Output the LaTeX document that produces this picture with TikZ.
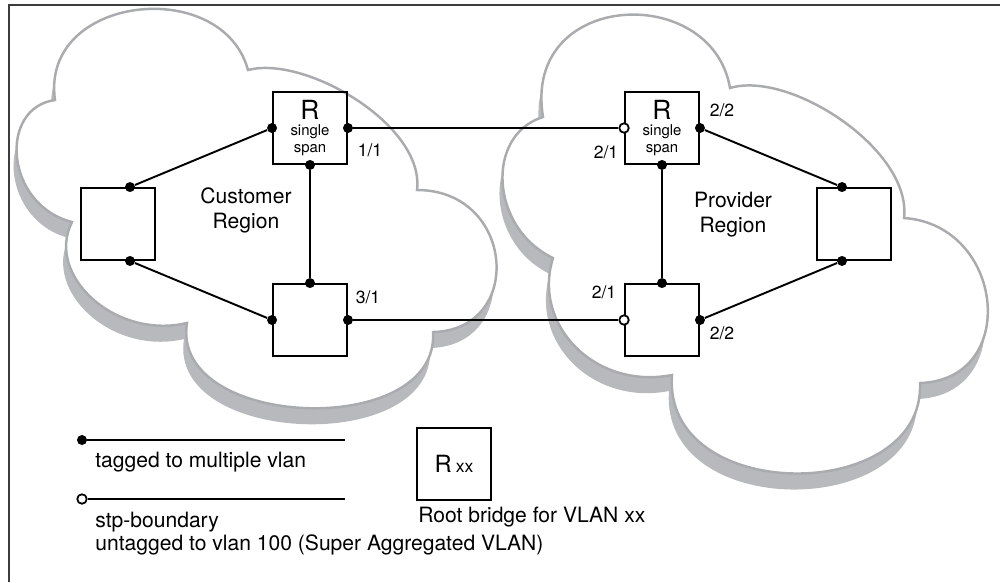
\documentclass[tikz,border=0pt]{standalone}
\usepackage{fontspec}
\setmainfont{TeX Gyre Heros}
\usepackage{tikz}

\definecolor{cloudline}{HTML}{A9ABAE}
\definecolor{cloudshade}{HTML}{B7B9BC}
\definecolor{framegray}{HTML}{3C3C3C}

% cloud outlines, one curve per bulge
\newcommand{\custcloud}{(55,100)
  .. controls (40,-5) and (222,-25) .. (248,70)
  .. controls (305,55) and (425,125) .. (417,190)
  .. controls (515,190) and (525,330) .. (433,332)
  .. controls (440,440) and (170,430) .. (187,323)
  .. controls (115,340) and (45,275) .. (72,222)
  .. controls (5,205) and (-2,108) .. (55,100)
  -- cycle}
\newcommand{\provcloud}{(543,117)
  .. controls (522,-10) and (712,-18) .. (730,88)
  .. controls (790,70) and (912,150) .. (904,218)
  .. controls (1005,225) and (1020,380) .. (920,383)
  .. controls (925,505) and (662,505) .. (672,375)
  .. controls (595,390) and (532,325) .. (553,258)
  .. controls (490,228) and (485,135) .. (543,117)
  -- cycle}

\begin{document}
\begin{tikzpicture}[x=0.02cm, y=-0.02cm,
    bridge/.style={draw, line width=1.1pt, minimum width=1.48cm, minimum height=1.44cm,
      inner sep=0pt, align=center, font=\fontsize{8.5}{10}\selectfont},
    tagport/.style={circle, fill=black, inner sep=0pt, minimum size=0.2cm},
    stpport/.style={circle, draw=black, fill=white, line width=1pt, inner sep=0pt, minimum size=0.19cm},
    link/.style={line width=1.1pt},
    lbl/.style={inner sep=0pt, font=\fontsize{10}{12}\selectfont},
    region/.style={inner sep=0pt, align=center, font=\fontsize{12}{14.2}\selectfont},
    legendtext/.style={inner sep=0pt, anchor=west, font=\fontsize{12}{14}\selectfont}]
  \useasboundingbox (0,0) rectangle (1000,582);
  \draw[framegray, line width=0.9pt] (9,582) -- (9,5) -- (1000,5);

  % clouds
  \fill[cloudshade, shift={(-3,16)}] \custcloud;
  \fill[cloudshade, shift={(-3,16)}] \provcloud;
  \filldraw[fill=white, draw=cloudline, line width=1.4pt] \custcloud;
  \filldraw[fill=white, draw=cloudline, line width=1.4pt] \provcloud;

  % customer region
  \node[bridge] (cr) at (310,128) {{\fontsize{15}{15}\selectfont R}\\[-1pt] single\\ span};
  \node[bridge] (cl) at (118,224) {};
  \node[bridge] (cb) at (310,320) {};
  \node[region] (custtxt) at (246,210) {Customer\\Region};

  % provider region
  \node[bridge] (pr) at (662,128) {{\fontsize{15}{15}\selectfont R}\\[-1pt] single\\ span};
  \node[bridge] (pe) at (854,224) {};
  \node[bridge] (pb) at (662,320) {};
  \node[region] (provtxt) at (733,215) {Provider\\Region};

  % ports
  \node[tagport] (cr-w) at (cr.west) {};
  \node[tagport] (cr-e) at (cr.east) {};
  \node[tagport] (cr-s) at (cr.south) {};
  \node[tagport] (cl-n) at ([xshift=0.24cm]cl.north) {};
  \node[tagport] (cl-s) at ([xshift=0.24cm]cl.south) {};
  \node[tagport] (cb-n) at (cb.north) {};
  \node[tagport] (cb-w) at (cb.west) {};
  \node[tagport] (cb-e) at (cb.east) {};
  \node[stpport] (pr-w) at (pr.west) {};
  \node[tagport] (pr-e) at (pr.east) {};
  \node[tagport] (pr-s) at (pr.south) {};
  \node[tagport] (pe-n) at ([xshift=-0.24cm]pe.north) {};
  \node[tagport] (pe-s) at ([xshift=-0.24cm]pe.south) {};
  \node[tagport] (pb-n) at (pb.north) {};
  \node[stpport] (pb-w) at (pb.west) {};
  \node[tagport] (pb-e) at (pb.east) {};

  \draw[link] (cr-e) -- (pr-w);
  \draw[link] (cb-e) -- (pb-w);
  \draw[link] (cr-w) -- (cl-n);
  \draw[link] (cl-s) -- (cb-w);
  \draw[link] (cr-s) -- (cb-n);
  \draw[link] (pr-s) -- (pb-n);
  \draw[link] (pr-e) -- (pe-n);
  \draw[link] (pe-s) -- (pb-e);

  \node[lbl] (p11) at (370,150) {1/1};
  \node[lbl] (p31) at (368,297) {3/1};
  \node[lbl] (p22a) at (722,110) {2/2};
  \node[lbl] (p21a) at (606,152) {2/1};
  \node[lbl] (p21b) at (604,292) {2/1};
  \node[lbl] (p22b) at (722,333) {2/2};

  % legend
  \node[tagport] (tagdot) at (82,440) {};
  \coordinate (tagend) at (345,440);
  \draw[link] (tagdot) -- (tagend);
  \node[legendtext] (tagtxt) at (95,462) {tagged to multiple vlan};
  \node[stpport] (stpdot) at (82,499) {};
  \coordinate (stpend) at (345,499);
  \draw[link] (stpdot) -- (stpend);
  \node[legendtext] (stptxt) at (95,522) {stp-boundary};
  \node[legendtext] (untagtxt) at (95,545) {untagged to vlan 100 (Super Aggregated VLAN)};
  \node[bridge] (rkey) at (454,464) {{\fontsize{13.5}{14}\selectfont R} {\fontsize{10}{12}\selectfont xx}};
  \node[legendtext] (rkeytxt) at (418,517) {Root bridge for VLAN xx};
\end{tikzpicture}
\end{document}
